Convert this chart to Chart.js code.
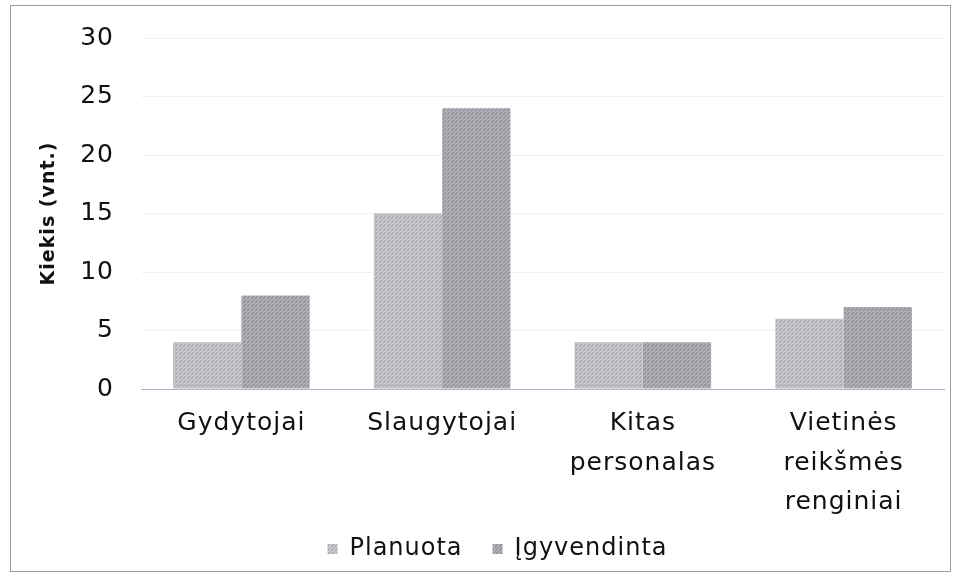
<!DOCTYPE html>
<html>
<head>
<meta charset="utf-8">
<script src="https://cdn.jsdelivr.net/npm/chart.js@4/dist/chart.umd.min.js"></script>
<style>
  body { margin: 0; background: #fff; }
  .box { position: absolute; left: 10px; top: 5px; width: 939px; height: 565px; border: 1px solid #9a9aa2; }
</style>
</head>
<body>
<div class="box"><canvas id="chart" width="939" height="565"></canvas></div>
<script>
const categories = ['Gydytojai', ['Slaugytojai'], ['Kitas', 'personalas'], ['Vietinės', 'reikšmės', 'renginiai']];
const planuota = [4, 15, 4, 6];
const igyvendinta = [8, 24, 4, 7];

// dotted fill like the printed chart
function makePattern(base, dot) {
  const c = document.createElement('canvas');
  c.width = 4; c.height = 4;
  const g = c.getContext('2d');
  g.fillStyle = base;
  g.fillRect(0, 0, 4, 4);
  g.fillStyle = dot;
  g.fillRect(0, 0, 1, 1);
  g.fillRect(2, 2, 1, 1);
  g.fillRect(1, 3, 1, 1);
  return g.createPattern(c, 'repeat');
}

// wider text, closer to the original geometric font;
// also let the 3-line x labels run past the axis box instead of being clipped
const tweaks = {
  id: 'tweaks',
  beforeUpdate(chart) { chart.ctx.letterSpacing = '1px'; },
  afterLayout(chart) { chart.scales.x.bottom = chart.height; },
  beforeDraw(chart) { chart.ctx.letterSpacing = '1px'; },
};

const ctx = document.getElementById('chart').getContext('2d');
const font = "'DejaVu Sans', sans-serif";

new Chart(ctx, {
  type: 'bar',
  data: {
    labels: categories,
    datasets: [
      {
        label: 'Planuota',
        data: planuota,
        backgroundColor: makePattern('#c6c3cb', '#a09ca6'),
        barPercentage: 1,
        categoryPercentage: 0.68,
      },
      {
        label: 'Įgyvendinta',
        data: igyvendinta,
        backgroundColor: makePattern('#aeabb3', '#85818c'),
        barPercentage: 1,
        categoryPercentage: 0.68,
      },
    ],
  },
  plugins: [tweaks],
  options: {
    responsive: false,
    animation: false,
    layout: { padding: { left: 40, right: 6, top: 32, bottom: 0 } },
    scales: {
      x: {
        afterFit: (axis) => { axis.height = 118; },
        grid: { display: false, drawTicks: false },
        border: { color: '#a9b3c6', width: 1 },
        ticks: { color: '#111', font: { family: font, size: 25, lineHeight: 1.58 }, padding: 15, maxRotation: 0, autoSkip: false },
      },
      y: {
        min: 0,
        max: 30,
        afterFit: (axis) => { axis.width = 90; axis.paddingTop = 0; axis.paddingBottom = 0; },
        grid: { color: '#f1f1f3', drawTicks: false },
        border: { display: false },
        ticks: { stepSize: 5, color: '#111', font: { family: font, size: 25 }, padding: 27 },
        title: { display: true, text: 'Kiekis (vnt.)', color: '#111', font: { family: font, size: 19, weight: 'bold' }, padding: { top: -13, bottom: 0 } },
      },
    },
    plugins: {
      legend: {
        position: 'bottom',
        labels: { color: '#111', font: { family: font, size: 24 }, boxWidth: 10, boxHeight: 10, padding: 30 },
      },
      tooltip: { enabled: false },
    },
  },
});
</script>
</body>
</html>
